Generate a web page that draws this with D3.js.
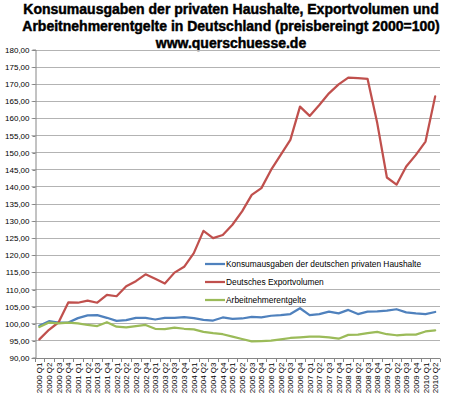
<!doctype html>
<html>
<head>
  <meta charset="utf-8">
  <title>Konsumausgaben, Exportvolumen, Arbeitnehmerentgelte</title>
  <style>
  body { margin: 0; background: #fff; }
  #vis { width: 450px; height: 398px; }
  text { font-family: "Liberation Sans", Arial, sans-serif; fill: #000; }
  .title { font-weight: bold; font-size: 14px; stroke: #000; stroke-width: 0.45px; }
  .tick { font-size: 8px; }
  .legend { font-size: 8.4px; }
  </style>
</head>
<body>
  <div id="vis"></div>

  <script src="https://d3js.org/d3.v7.min.js"></script>
  <script>
  var quarters = [
    '2000 Q1','2000 Q2','2000 Q3','2000 Q4','2001 Q1','2001 Q2','2001 Q3','2001 Q4',
    '2002 Q1','2002 Q2','2002 Q3','2002 Q4','2003 Q1','2003 Q2','2003 Q3','2003 Q4',
    '2004 Q1','2004 Q2','2004 Q3','2004 Q4','2005 Q1','2005 Q2','2005 Q3','2005 Q4',
    '2006 Q1','2006 Q2','2006 Q3','2006 Q4','2007 Q1','2007 Q2','2007 Q3','2007 Q4',
    '2008 Q1','2008 Q2','2008 Q3','2008 Q4','2009 Q1','2009 Q2','2009 Q3','2009 Q4',
    '2010 Q1','2010 Q2'
  ];

  // Konsumausgaben der deutschen privaten Haushalte
  var konsum = [
    99.3, 100.6, 100.2, 100.2, 101.5, 102.3, 102.4, 101.6, 100.7, 100.9, 101.6, 101.6, 101.1, 101.6, 101.6,
    101.8, 101.5, 101.0, 100.8, 101.7, 101.3, 101.4, 101.9, 101.7, 102.2, 102.4, 102.7, 104.4,
    102.4, 102.7, 103.4, 102.9, 103.9, 102.7, 103.4, 103.5, 103.7, 104.1, 103.2, 102.9, 102.7, 103.3
  ];

  // Deutsches Exportvolumen
  var export_ = [
    95.3, 98.1, 100.3, 106.1, 106.0, 106.6, 106.0, 108.3, 107.9, 110.8, 112.3, 114.3, 113.0, 111.6, 114.8,
    116.5, 120.5, 127.0, 124.9, 125.8, 128.8, 132.7, 137.5, 139.5, 144.8, 149.2, 153.6, 163.3,
    160.6, 163.8, 167.2, 169.8, 171.8, 171.6, 171.4, 158.5, 142.6, 140.5, 145.8, 149.2, 153.1, 166.3
  ];

  // Arbeitnehmerentgelte
  var arbeit = [
    98.9, 100.2, 100.0, 100.2, 100.0, 99.5, 99.2, 100.3, 99.0, 98.8, 99.2, 99.5, 98.4, 98.3, 98.7,
    98.4, 98.2, 97.5, 97.1, 96.8, 96.1, 95.4, 94.7, 94.8, 94.9, 95.3, 95.7, 95.9,
    96.1, 96.1, 95.9, 95.5, 96.6, 96.7, 97.1, 97.5, 96.8, 96.5, 96.7, 96.7, 97.6, 97.9
  ];

  var yTicks = [90,95,100,105,110,115,120,125,130,135,140,145,150,155,160,165,170,175,180];

  var titleLines = [
    'Konsumausgaben der privaten Haushalte, Exportvolumen und',
    'Arbeitnehmerentgelte in Deutschland (preisbereingt 2000=100)',
    'www.querschuesse.de'
  ];

  var series = [
    { name: 'Konsumausgaben der deutschen privaten Haushalte', values: konsum, color: '#4f81bd' },
    { name: 'Deutsches Exportvolumen', values: export_, color: '#c0504d' },
    { name: 'Arbeitnehmerentgelte', values: arbeit, color: '#9bbb59' }
  ];

  var width = 450;
  var height = 398;
  var plot = { left: 34.5, right: 440, top: 49.5, bottom: 357.5 };

  var svg = d3.select('#vis')
    .append('svg')
    .attr('width', width)
    .attr('height', height);

  var x = d3.scaleBand().domain(quarters).range([plot.left, plot.right]).padding(0);
  var y = d3.scaleLinear().domain([90, 180]).range([plot.bottom, plot.top]);
  var cx = function(q){ return x(q) + x.bandwidth() / 2; };

  // title
  var titleY = [14, 31, 48];
  svg.selectAll('.title').data(titleLines).enter().append('text')
    .attr('class', 'title')
    .attr('x', 231)
    .attr('y', function(d, i){ return titleY[i]; })
    .attr('text-anchor', 'middle')
    .text(function(d){ return d; });

  // gridlines
  svg.append('g').selectAll('line').data(yTicks).enter().append('line')
    .attr('x1', plot.left - 3)
    .attr('x2', plot.right)
    .attr('y1', function(d){ return Math.round(y(d)) + 0.5; })
    .attr('y2', function(d){ return Math.round(y(d)) + 0.5; })
    .attr('stroke', function(d){ return d === 90 ? '#868686' : '#b3b3b3'; })
    .attr('stroke-width', 1);

  // y axis
  var yAxis = svg.append('g')
    .attr('transform', 'translate(' + Math.round(plot.left) + '.5,0)')
    .call(d3.axisLeft(y).tickValues(yTicks).tickSize(3).tickPadding(3)
      .tickFormat(function(d){ return d3.format('.2f')(d).replace('.', ','); }));
  yAxis.select('.domain').attr('stroke', '#868686');
  yAxis.selectAll('.tick line').attr('stroke', '#868686');
  yAxis.selectAll('.tick text').attr('font-size', 8).attr('font-family', '"Liberation Sans", Arial, sans-serif');
  yAxis.selectAll('.tick').each(function(){
    var t = d3.select(this).attr('transform');
    var ty = +t.match(/,([\d.]+)\)/)[1];
    d3.select(this).attr('transform', 'translate(0,' + (Math.round(ty) + 0.5) + ')');
  });

  // x axis
  var xAxisG = svg.append('g');
  xAxisG.append('line')
    .attr('x1', plot.left).attr('x2', plot.right)
    .attr('y1', Math.round(plot.bottom) + 0.5).attr('y2', Math.round(plot.bottom) + 0.5)
    .attr('stroke', '#868686');
  xAxisG.selectAll('.xtick').data(quarters.concat(['end'])).enter().append('line')
    .attr('class', 'xtick')
    .attr('x1', function(d, i){ return Math.round(i < quarters.length ? x(d) : plot.right) + 0.5; })
    .attr('x2', function(d, i){ return Math.round(i < quarters.length ? x(d) : plot.right) + 0.5; })
    .attr('y1', Math.round(plot.bottom) + 0.5)
    .attr('y2', Math.round(plot.bottom) + 4)
    .attr('stroke', '#868686');
  xAxisG.selectAll('.xlabel').data(quarters).enter().append('text')
    .attr('class', 'tick')
    .attr('text-anchor', 'end')
    .attr('transform', function(d){ return 'translate(' + (cx(d) + 3) + ',' + (plot.bottom + 5) + ') rotate(-90)'; })
    .text(function(d){ return d; });

  // lines
  var line = d3.line()
    .x(function(d, i){ return cx(quarters[i]); })
    .y(function(d){ return y(d); });

  svg.append('g').selectAll('path').data(series).enter().append('path')
    .attr('d', function(s){ return line(s.values); })
    .attr('fill', 'none')
    .attr('stroke', function(s){ return s.color; })
    .attr('stroke-width', 2.25)
    .attr('stroke-linejoin', 'round')
    .attr('stroke-linecap', 'round');

  // legend
  var legendY = [264, 282, 300];
  var legend = svg.append('g').selectAll('g').data(series).enter().append('g')
    .attr('transform', function(d, i){ return 'translate(205,' + legendY[i] + ')'; });
  legend.append('line')
    .attr('x1', 0).attr('x2', 20)
    .attr('stroke', function(d){ return d.color; })
    .attr('stroke-width', 2.25);
  legend.append('text')
    .attr('class', 'legend')
    .attr('x', 21)
    .attr('y', 3)
    .text(function(d){ return d.name; });
  </script>
</body>
</html>
